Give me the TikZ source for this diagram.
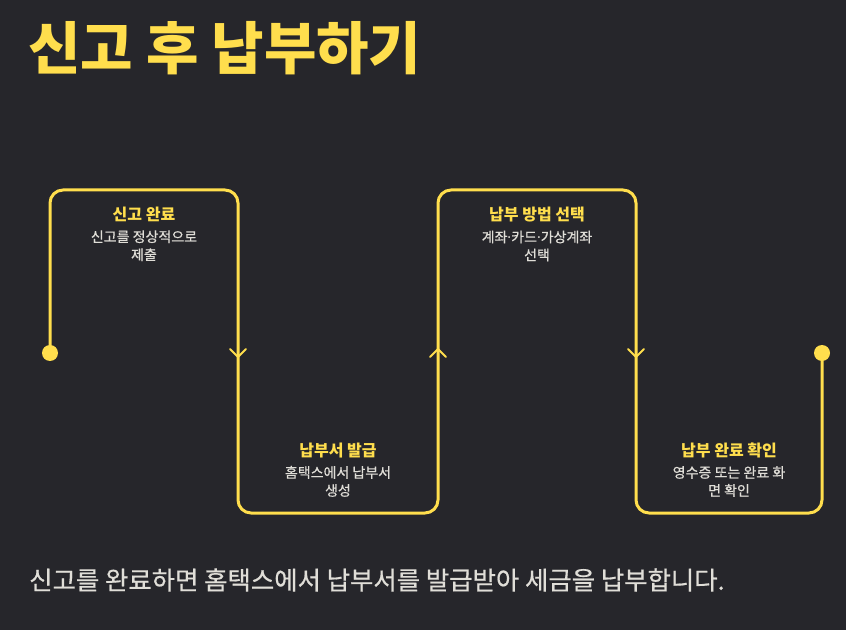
\documentclass[tikz,border=0pt]{standalone}
\usepackage{fontspec}
\setmainfont{Noto Sans CJK KR}
\newfontfamily\medfont{Noto Sans CJK KR}[FakeBold=0.6]
\newfontfamily\dotfont{Noto Sans}
\newcommand{\mdot}{{\dotfont ·}}
\usepackage{xcolor}
\definecolor{taxBg}{RGB}{38, 38, 43}
\definecolor{taxYellow}{RGB}{255, 222, 77}
\definecolor{taxGray}{RGB}{224, 222, 216}
\usepackage{tikz}
\usetikzlibrary{positioning}

\begin{document}
\begin{tikzpicture}[x=1pt, y=1pt,
  stepbox/.style={rectangle, inner sep=0pt, outer sep=0pt},
  steptitle/.style={text=taxYellow, font=\fontsize{16}{19}\selectfont\bfseries,
                    inner sep=0pt},
  stepdesc/.style={text=taxGray, font=\fontsize{14}{18}\selectfont\medfont,
                   align=center, inner sep=0pt},
  flow/.style={draw=taxYellow, line width=3pt, rounded corners=13pt},
  chev/.style={draw=taxYellow, line width=2pt, line cap=round, line join=round},
  enddot/.style={circle, fill=taxYellow, minimum size=16pt, inner sep=0pt},
]
  \fill[taxBg] (0,0) rectangle (846,630);
  \useasboundingbox (0,0) rectangle (846,630);

  \node[anchor=west, text=taxYellow, font=\fontsize{57}{67}\selectfont\bfseries,
        inner sep=0pt] (title) at (28,582) {신고 후 납부하기};

  % the four steps, alternately above and below the middle line
  \node[stepbox, minimum width=188pt, minimum height=163pt] (box1) at (144,358.5) {};
  \node[stepbox, minimum width=200pt, minimum height=160pt] (box2) at (338,197) {};
  \node[stepbox, minimum width=198pt, minimum height=163pt] (box3) at (537,358.5) {};
  \node[stepbox, minimum width=186pt, minimum height=160pt] (box4) at (729,197) {};

  \node[steptitle, below=17pt of box1.north] (t1) {신고 완료};
  \node[stepdesc, below=8pt of t1] (d1) {신고를 정상적으로\\제출};

  \node[steptitle, below=17pt of box3.north] (t3) {납부 방법 선택};
  \node[stepdesc, below=8pt of t3] (d3) {계좌\mdot 카드\mdot 가상계좌\\선택};

  \node[stepdesc, above=16pt of box2.south] (d2) {홈택스에서 납부서\\생성};
  \node[steptitle, above=8pt of d2] (t2) {납부서 발급};

  \node[stepdesc, above=16pt of box4.south] (d4) {영수증 또는 완료 화\\면 확인};
  \node[steptitle, above=8pt of d4] (t4) {납부 완료 확인};

  \draw[flow] (box1.south west) -- (box1.north west) -- (box1.north east)
    -- (box2.south west) -- (box2.south east) -- (box3.north west)
    -- (box3.north east) -- (box4.south west) -- (box4.south east)
    -- (box4.north east);

  \node[enddot] (start) at (box1.south west) {};
  \node[enddot] (finish) at (box4.north east) {};

  % direction marks
  \draw[chev] ([shift={(-8,4)}]box1.south east) -- ([yshift=-4]box1.south east)
    -- ([shift={(8,4)}]box1.south east);
  \draw[chev] ([shift={(-8,-4)}]box3.south west) -- ([yshift=4]box3.south west)
    -- ([shift={(8,-4)}]box3.south west);
  \draw[chev] ([shift={(-8,4)}]box3.south east) -- ([yshift=-4]box3.south east)
    -- ([shift={(8,4)}]box3.south east);

  \node[anchor=west, text=taxGray, font=\fontsize{25.4}{30}\selectfont\medfont,
        inner sep=0pt] (note) at (29,50)
    {신고를 완료하면 홈택스에서 납부서를 발급받아 세금을 납부합니다.};
\end{tikzpicture}
\end{document}
